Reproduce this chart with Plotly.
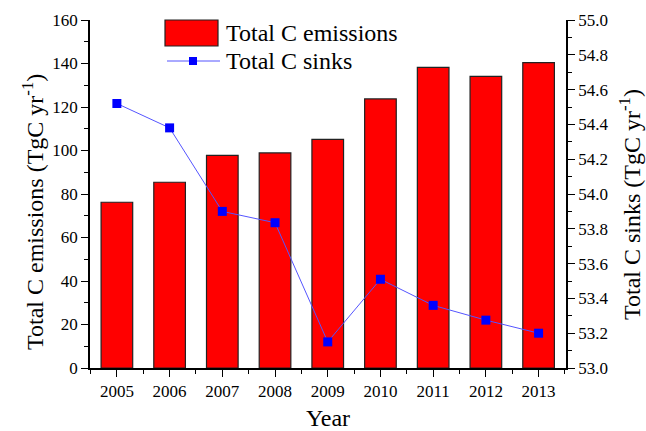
import plotly.graph_objects as go

years = [2005, 2006, 2007, 2008, 2009, 2010, 2011, 2012, 2013]
emissions = [76.2, 85.4, 97.8, 98.9, 105.1, 123.7, 138.2, 134.1, 140.4]
sinks = [54.52, 54.38, 53.90, 53.835, 53.15, 53.51, 53.36, 53.275, 53.20]

FONT = "Liberation Serif, Times New Roman, serif"
W, H = 646, 431
L, R, T, B = 90, 80, 20, 63
PW, PH = W - L - R, H - T - B

fig = go.Figure()
fig.add_trace(go.Bar(
    x=years, y=emissions, width=0.6, name="Total C emissions",
    marker=dict(color="#ff0000", line=dict(color="#222222", width=1.2)),
    showlegend=False,
))
fig.add_trace(go.Scatter(
    x=years, y=sinks, yaxis="y2", mode="lines+markers", name="Total C sinks",
    line=dict(color="#5555ff", width=1),
    marker=dict(symbol="square", size=9, color="#0000ff", line=dict(color="#0000ff", width=0)),
    showlegend=False,
))

axis_common = dict(
    showline=True, linecolor="black", linewidth=1.5, showgrid=False, zeroline=False,
    ticks="outside", ticklen=7, tickwidth=1.3, tickcolor="black", automargin=False,
    tickfont=dict(family=FONT, size=17, color="black"),
)
TITLE_FONT = dict(family=FONT, size=24, color="black")

fig.update_layout(
    width=W, height=H, margin=dict(l=L, r=R, t=T, b=B),
    paper_bgcolor="white", plot_bgcolor="white",
    font=dict(family=FONT, color="black"),
    xaxis=dict(
        **axis_common, range=[2004.49, 2013.52], tickmode="linear", tick0=2005, dtick=1,
        minor=dict(ticks="outside", ticklen=4, tickwidth=1.3, tickcolor="black", dtick=0.5, tick0=2004.5),
        title=dict(text="Year", font=TITLE_FONT, standoff=18),
    ),
    yaxis=dict(
        **axis_common, range=[0, 160], tickmode="linear", tick0=0, dtick=20,
        minor=dict(ticks="outside", ticklen=4, tickwidth=1.3, tickcolor="black", dtick=10),
    ),
    yaxis2=dict(
        **axis_common, overlaying="y", side="right", range=[53.0, 55.0],
        tickmode="linear", tick0=53.0, dtick=0.2, tickformat=".1f",
        minor=dict(ticks="outside", ticklen=4, tickwidth=1.3, tickcolor="black", dtick=0.1),
    ),
)

# helpers: figure pixel position -> paper units
def px(xp):
    return (xp - L) / PW

def py(yp):
    return (H - B - yp) / PH

# vertical axis titles
fig.add_annotation(xref="paper", yref="paper", x=px(33), y=py(212), textangle=-90,
                   text="Total C emissions (TgC yr<sup>-1</sup>)", showarrow=False,
                   xanchor="center", yanchor="middle", font=TITLE_FONT)
fig.add_annotation(xref="paper", yref="paper", x=px(630), y=py(205), textangle=-90,
                   text="Total C sinks (TgC yr<sup>-1</sup>)", showarrow=False,
                   xanchor="center", yanchor="middle", font=TITLE_FONT)

# legend
fig.add_shape(type="rect", xref="paper", yref="paper",
              x0=px(165), x1=px(218), y0=py(46), y1=py(20),
              fillcolor="#ff0000", line=dict(color="#222222", width=1.2))
fig.add_shape(type="line", xref="paper", yref="paper",
              x0=px(167), x1=px(220), y0=py(61), y1=py(61),
              line=dict(color="#5555ff", width=1))
fig.add_shape(type="rect", xref="paper", yref="paper",
              x0=px(189), x1=px(197), y0=py(65), y1=py(57),
              fillcolor="#0000ff", line=dict(color="#0000ff", width=0))
fig.add_annotation(xref="paper", yref="paper", x=px(224), y=py(33),
                   text="Total C emissions", showarrow=False, xanchor="left", yanchor="middle",
                   font=dict(family=FONT, size=24, color="black"))
fig.add_annotation(xref="paper", yref="paper", x=px(224), y=py(61),
                   text="Total C sinks", showarrow=False, xanchor="left", yanchor="middle",
                   font=dict(family=FONT, size=24, color="black"))

fig.write_html("out.html")
